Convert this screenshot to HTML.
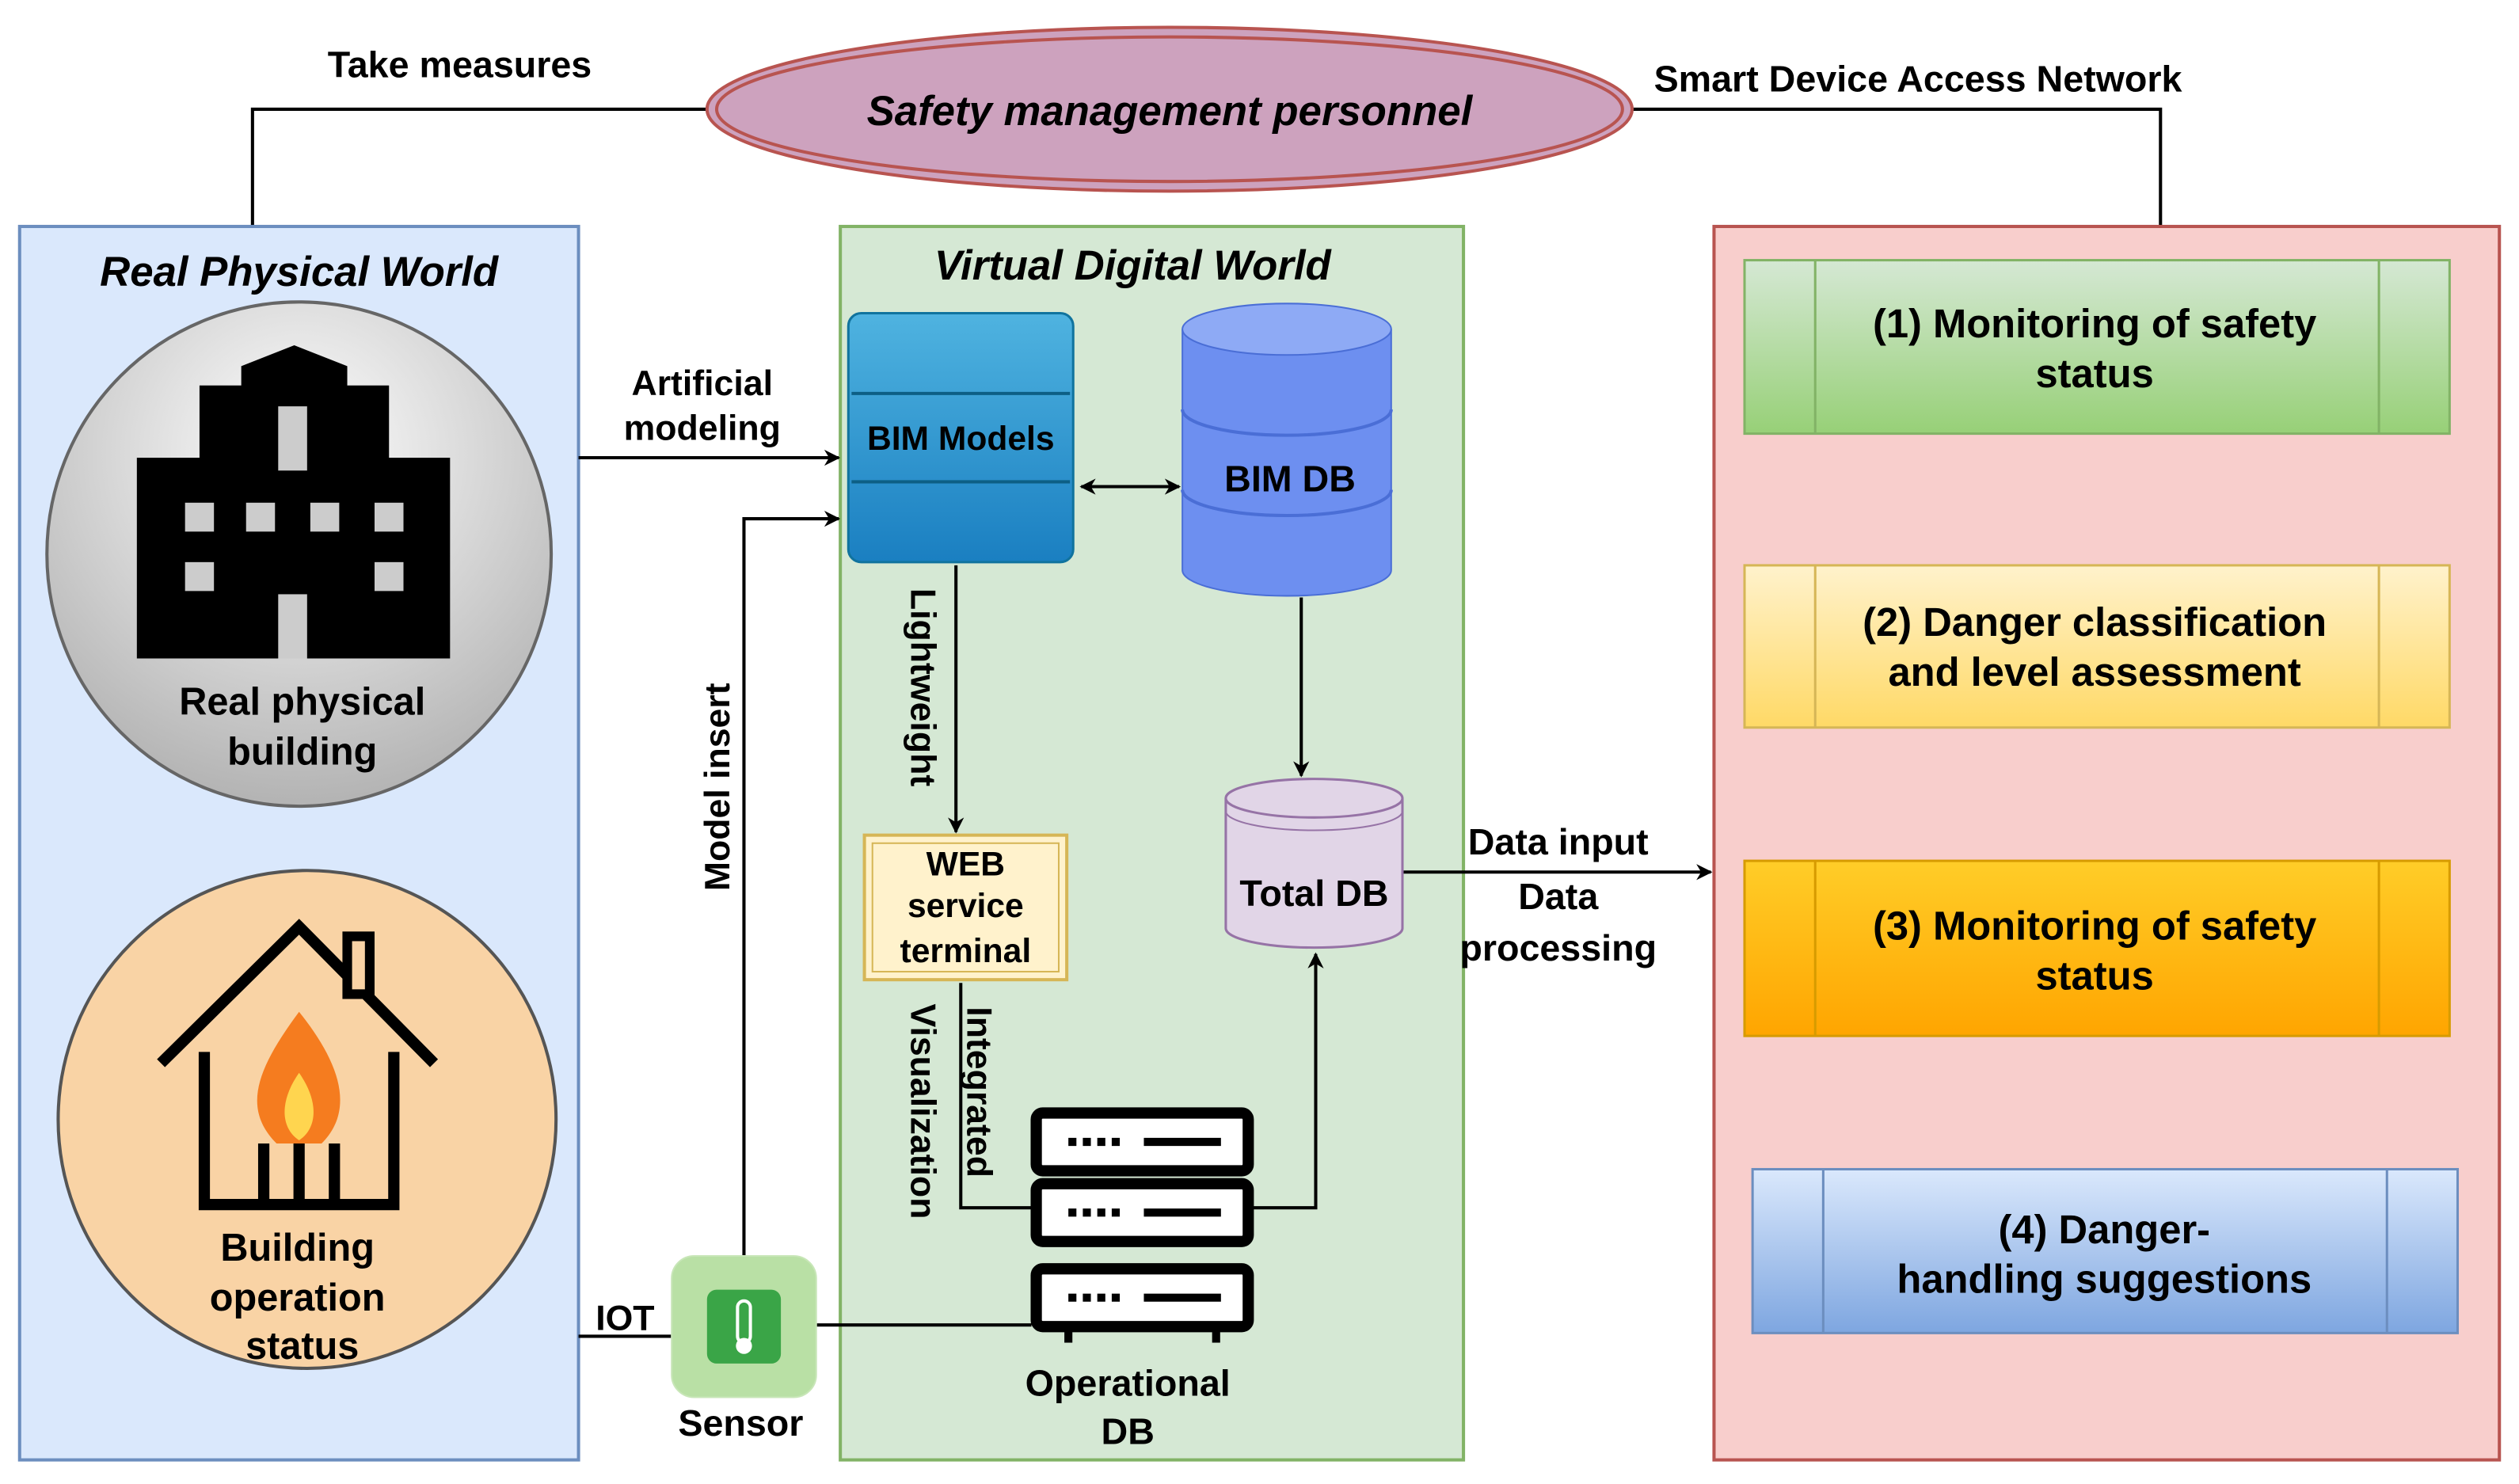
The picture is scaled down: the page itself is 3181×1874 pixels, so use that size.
<!DOCTYPE html>
<html><head><meta charset="utf-8"><style>html,body{margin:0;padding:0;background:#fff}svg{display:block}text{font-family:"Liberation Sans",sans-serif;font-weight:bold}</style></head><body>
<svg width="3181" height="1874" viewBox="0 0 1568 924" xmlns="http://www.w3.org/2000/svg">
<defs>
<marker id="a" markerWidth="10" markerHeight="10" refX="9" refY="5" orient="auto" markerUnits="userSpaceOnUse"><path d="M0,0 L10,5 L0,10 L3,5 z" fill="#000"/></marker>
<marker id="b" markerWidth="10" markerHeight="10" refX="1" refY="5" orient="auto" markerUnits="userSpaceOnUse"><path d="M10,0 L0,5 L10,10 L7,5 z" fill="#000"/></marker>
<radialGradient id="g1" cx="50%" cy="30%" r="70%"><stop offset="0" stop-color="#fff"/><stop offset="1" stop-color="#b3b3b3"/></radialGradient>
<linearGradient id="gb" x1="0" x2="0" y1="0" y2="1"><stop offset="0" stop-color="#4fb3e0"/><stop offset="1" stop-color="#1a7fc1"/></linearGradient>
<linearGradient id="gr" x1="0" x2="0" y1="0" y2="1"><stop offset="0" stop-color="#d5e8d4"/><stop offset="1" stop-color="#97d077"/></linearGradient>
<linearGradient id="gy" x1="0" x2="0" y1="0" y2="1"><stop offset="0" stop-color="#fff2cc"/><stop offset="1" stop-color="#ffd966"/></linearGradient>
<linearGradient id="go" x1="0" x2="0" y1="0" y2="1"><stop offset="0" stop-color="#ffcd28"/><stop offset="1" stop-color="#ffa500"/></linearGradient>
<linearGradient id="gl" x1="0" x2="0" y1="0" y2="1"><stop offset="0" stop-color="#dae8fc"/><stop offset="1" stop-color="#7ea6e0"/></linearGradient>
</defs>
<polyline points="440,68 157,68 157,140" fill="none" stroke="#000" stroke-width="2"/>
<polyline points="1016,68 1345,68 1345,140" fill="none" stroke="#000" stroke-width="2"/>
<ellipse cx="728" cy="68" rx="288" ry="51" fill="#cda2be" stroke="#b85450" stroke-width="2"/>
<ellipse cx="728" cy="68" rx="282" ry="45" fill="none" stroke="#b85450" stroke-width="2"/>
<text x="728" y="78" font-size="26" font-style="italic" text-anchor="middle">Safety management personnel</text>
<text x="286" y="48" font-size="23" text-anchor="middle">Take measures</text>
<text x="1194" y="57" font-size="23" text-anchor="middle">Smart Device Access Network</text>
<rect x="12" y="141" width="348" height="768" fill="#dae8fc" stroke="#6c8ebf" stroke-width="2"/>
<rect x="523" y="141" width="388" height="768" fill="#d5e8d4" stroke="#82b366" stroke-width="2"/>
<rect x="1067" y="141" width="489" height="768" fill="#f8cecc" stroke="#b85450" stroke-width="2"/>
<text x="186" y="178" font-size="26" font-style="italic" text-anchor="middle">Real Physical World</text>
<text x="705" y="174" font-size="26" font-style="italic" text-anchor="middle">Virtual Digital World</text>
<circle cx="186" cy="345" r="157" fill="url(#g1)" stroke="#666" stroke-width="2"/>
<path d="M124,240 L150,240 L150,228 L183,215 L216,228 L216,240 L242,240 L242,285 L280,285 L280,410 L85,410 L85,285 L124,285 Z" fill="#000"/>
<g fill="#ccc"><rect x="173" y="253" width="18" height="40"/><rect x="115" y="313" width="18" height="18"/><rect x="153" y="313" width="18" height="18"/><rect x="193" y="313" width="18" height="18"/><rect x="233" y="313" width="18" height="18"/><rect x="115" y="350" width="18" height="18"/><rect x="233" y="350" width="18" height="18"/><rect x="173" y="370" width="18" height="40"/></g>
<text x="188" y="445" font-size="24" text-anchor="middle">Real physical</text>
<text x="188" y="476" font-size="24" text-anchor="middle">building</text>
<circle cx="191" cy="697" r="155" fill="#f9d3a5" stroke="#555" stroke-width="2"/>
<path d="M100,662 L186,577 L270,662" fill="none" stroke="#000" stroke-width="7"/>
<rect x="216" y="583" width="14" height="36" fill="#f9d3a5" stroke="#000" stroke-width="6"/>
<path d="M127,655 L127,750 L245,750 L245,655" fill="none" stroke="#000" stroke-width="7"/>
<path d="M186,630 C160,665 150,690 172,712 L200,712 C222,690 210,660 186,630 Z" fill="#f57c1f"/>
<path d="M186,668 C174,685 174,702 186,710 C198,702 198,685 186,668 Z" fill="#ffd54f"/>
<g stroke="#000" stroke-width="7"><line x1="164" y1="712" x2="164" y2="750"/><line x1="186" y1="712" x2="186" y2="750"/><line x1="208" y1="712" x2="208" y2="750"/></g>
<text x="185" y="785" font-size="24" text-anchor="middle">Building</text>
<text x="185" y="816" font-size="24" text-anchor="middle">operation</text>
<text x="188" y="846" font-size="24" text-anchor="middle">status</text>
<line x1="360" y1="285" x2="522" y2="285" stroke="#000" stroke-width="2" marker-end="url(#a)"/>
<text x="437" y="246" font-size="22" text-anchor="middle">Artificial</text>
<text x="437" y="274" font-size="22" text-anchor="middle">modeling</text>
<polyline points="463,785 463,323 522,323" fill="none" stroke="#000" stroke-width="2" marker-end="url(#a)"/>
<text transform="translate(454,490) rotate(-90)" font-size="22" text-anchor="middle">Model insert</text>
<line x1="360" y1="832" x2="418" y2="832" stroke="#000" stroke-width="2"/>
<text x="389" y="828" font-size="22" text-anchor="middle">IOT</text>
<line x1="508" y1="825" x2="642" y2="825" stroke="#000" stroke-width="2"/>
<line x1="673" y1="303" x2="734" y2="303" stroke="#000" stroke-width="2" marker-end="url(#a)" marker-start="url(#b)"/>
<line x1="595" y1="352" x2="595" y2="518" stroke="#000" stroke-width="2" marker-end="url(#a)"/>
<text transform="translate(567,428) rotate(90)" font-size="22" text-anchor="middle">Lightweight</text>
<polyline points="598,612 598,752 642,752" fill="none" stroke="#000" stroke-width="2"/>
<text transform="translate(602,680) rotate(90)" font-size="22" text-anchor="middle">Integrated</text>
<text transform="translate(567,692) rotate(90)" font-size="22" text-anchor="middle">Visualization</text>
<polyline points="778,752 819,752 819,594" fill="none" stroke="#000" stroke-width="2" marker-end="url(#a)"/>
<line x1="810" y1="372" x2="810" y2="483" stroke="#000" stroke-width="2" marker-end="url(#a)"/>
<line x1="873" y1="543" x2="1065" y2="543" stroke="#000" stroke-width="2" marker-end="url(#a)"/>
<text x="970" y="532" font-size="23" text-anchor="middle">Data input</text>
<text x="970" y="566" font-size="23" text-anchor="middle">Data</text>
<text x="970" y="598" font-size="23" text-anchor="middle">processing</text>
<rect x="528" y="195" width="140" height="155" rx="8" fill="url(#gb)" stroke="#10739e" stroke-width="1.5"/>
<g stroke="#0d5f85" stroke-width="2"><line x1="530" y1="245" x2="666" y2="245"/><line x1="530" y1="300" x2="666" y2="300"/></g>
<text x="598" y="280" font-size="21" text-anchor="middle">BIM Models</text>
<path d="M736,205 L736,355 A65,16 0 0 0 866,355 L866,205" fill="#6d8ff0" stroke="#4a6ed6"/>
<ellipse cx="801" cy="205" rx="65" ry="16" fill="#8eaaf5" stroke="#4a6ed6"/>
<path d="M736,255 A65,16 0 0 0 866,255 M736,305 A65,16 0 0 0 866,305" fill="none" stroke="#4a6ed6" stroke-width="2"/>
<text x="803" y="306" font-size="23" text-anchor="middle">BIM DB</text>
<path d="M763,497 L763,578 A55,12 0 0 0 873,578 L873,497" fill="#e1d5e7" stroke="#9673a6" stroke-width="1.5"/>
<ellipse cx="818" cy="497" rx="55" ry="12" fill="#e1d5e7" stroke="#9673a6" stroke-width="1.5"/>
<path d="M763,505 A55,12 0 0 0 873,505" fill="none" stroke="#9673a6"/>
<text x="818" y="564" font-size="23" text-anchor="middle">Total DB</text>
<rect x="538" y="520" width="126" height="90" fill="#fff2cc" stroke="#d6b656" stroke-width="2"/>
<rect x="543" y="525" width="116" height="80" fill="none" stroke="#d6b656" stroke-width="1"/>
<text x="601" y="545" font-size="21" text-anchor="middle">WEB</text>
<text x="601" y="571" font-size="21" text-anchor="middle">service</text>
<text x="601" y="599" font-size="21" text-anchor="middle">terminal</text>
<g fill="#fff" stroke="#000" stroke-width="7">
<rect x="645" y="693" width="132" height="36" rx="4"/>
<rect x="645" y="737" width="132" height="36" rx="4"/>
<rect x="645" y="790" width="132" height="36" rx="4"/>
</g>
<g stroke="#000" stroke-width="5">
<line x1="665" y1="711" x2="700" y2="711" stroke-dasharray="5,4"/><line x1="712" y1="711" x2="760" y2="711"/>
<line x1="665" y1="755" x2="700" y2="755" stroke-dasharray="5,4"/><line x1="712" y1="755" x2="760" y2="755"/>
<line x1="665" y1="808" x2="700" y2="808" stroke-dasharray="5,4"/><line x1="712" y1="808" x2="760" y2="808"/>
<line x1="665" y1="826" x2="665" y2="836"/><line x1="757" y1="826" x2="757" y2="836"/>
</g>
<text x="702" y="869" font-size="23" text-anchor="middle">Operational</text>
<text x="702" y="899" font-size="23" text-anchor="middle">DB</text>
<rect x="418" y="782" width="90" height="88" rx="14" fill="#b9e0a5" stroke="#c8e6b8"/>
<rect x="440" y="803" width="46" height="46" rx="6" fill="#3aa547"/>
<rect x="459" y="810" width="8" height="26" rx="4" fill="none" stroke="#fff" stroke-width="2"/>
<circle cx="463" cy="838" r="5" fill="#fff"/>
<text x="461" y="894" font-size="23" text-anchor="middle">Sensor</text>
<g stroke-width="1.5">
<rect x="1086" y="162" width="439" height="108" fill="url(#gr)" stroke="#82b366"/>
<line x1="1130" y1="162" x2="1130" y2="270" stroke="#82b366"/><line x1="1481" y1="162" x2="1481" y2="270" stroke="#82b366"/>
<rect x="1086" y="352" width="439" height="101" fill="url(#gy)" stroke="#d6b656"/>
<line x1="1130" y1="352" x2="1130" y2="453" stroke="#d6b656"/><line x1="1481" y1="352" x2="1481" y2="453" stroke="#d6b656"/>
<rect x="1086" y="536" width="439" height="109" fill="url(#go)" stroke="#d79b00"/>
<line x1="1130" y1="536" x2="1130" y2="645" stroke="#d79b00"/><line x1="1481" y1="536" x2="1481" y2="645" stroke="#d79b00"/>
<rect x="1091" y="728" width="439" height="102" fill="url(#gl)" stroke="#6c8ebf"/>
<line x1="1135" y1="728" x2="1135" y2="830" stroke="#6c8ebf"/><line x1="1486" y1="728" x2="1486" y2="830" stroke="#6c8ebf"/>
</g>
<g font-size="25" text-anchor="middle">
<text x="1304" y="210">(1) Monitoring of safety</text><text x="1304" y="241">status</text>
<text x="1304" y="396">(2) Danger classification</text><text x="1304" y="427">and level assessment</text>
<text x="1304" y="585">(3) Monitoring of safety</text><text x="1304" y="616">status</text>
<text x="1310" y="774">(4) Danger-</text><text x="1310" y="805">handling suggestions</text>
</g>
</svg>
</body></html>
